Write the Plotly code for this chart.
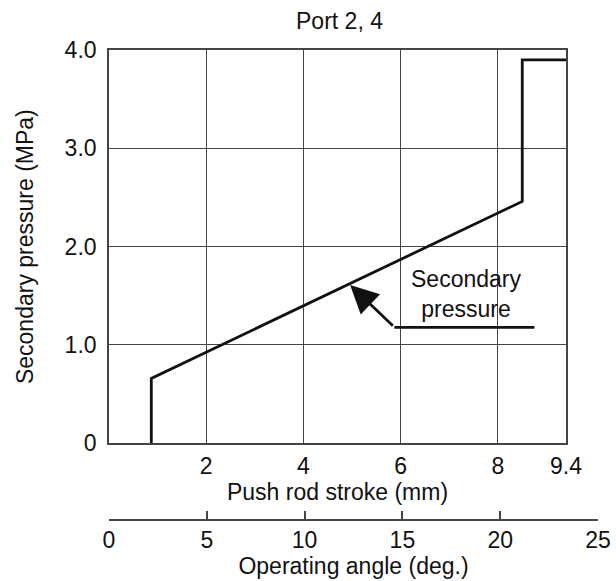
import plotly.graph_objects as go

# ---- data ----
stroke_mm = [0.87, 0.87, 8.5, 8.5, 9.4]
pressure_mpa = [0.0, 0.66, 2.46, 3.9, 3.9]

x_tick_vals = [2, 4, 6, 8, 9.4]
x_tick_text = ["2", "4", "6", "8", "9.4"]
y_tick_vals = [0, 1, 2, 3, 4]
y_tick_text = ["0", "1.0", "2.0", "3.0", "4.0"]
angle_tick_vals = [0, 5, 10, 15, 20, 25]

callout_x = [4.96, 5.87, 8.75]
callout_y = [1.61, 1.18, 1.18]
callout_label = "Secondary<br>pressure"

FONT = "Liberation Sans, Arial, Helvetica, sans-serif"
FS = 23
GRID = "#444444"
INK = "#111111"

W, H = 616, 581
ML, MR, MT, MB = 109, 18, 50, 61
pw = W - ML - MR
ph = H - MT - MB
main_right = 566
main_bottom = 443.3
x_dom_end = (main_right - ML) / pw
y_dom_start = (H - MB - main_bottom) / ph

fig = go.Figure()

fig.add_trace(go.Scatter(
    x=stroke_mm, y=pressure_mpa, mode="lines",
    line=dict(color=INK, width=2.8), showlegend=False, hoverinfo="skip",
    xaxis="x", yaxis="y"))

fig.add_trace(go.Scatter(
    x=callout_x[1:], y=callout_y[1:], mode="lines",
    line=dict(color=INK, width=2.8), showlegend=False, hoverinfo="skip",
    xaxis="x", yaxis="y"))

# invisible trace to register the angle axis
fig.add_trace(go.Scatter(
    x=angle_tick_vals, y=[None] * len(angle_tick_vals), mode="lines",
    showlegend=False, hoverinfo="skip", xaxis="x2", yaxis="y2"))

fig.add_annotation(
    x=callout_x[0], y=callout_y[0], ax=callout_x[1], ay=callout_y[1],
    xref="x", yref="y", axref="x", ayref="y",
    showarrow=True, arrowhead=2, arrowsize=2.0, arrowwidth=2.8,
    arrowcolor=INK, text="", standoff=0)

fig.add_annotation(
    x=7.35, y=1.52, xref="x", yref="y", text=callout_label, showarrow=False,
    font=dict(family=FONT, size=FS, color=INK), align="center",
    bgcolor="rgba(0,0,0,0)")

fig.update_layout(
    width=W, height=H,
    margin=dict(l=ML, r=MR, t=MT, b=MB, pad=0, autoexpand=False),
    paper_bgcolor="white", plot_bgcolor="white",
    font=dict(family=FONT, size=FS, color=INK),
    title=dict(text="Port 2, 4", x=(339.5 - ML) / pw, xref="paper",
               xanchor="center", y=1 - 21 / H, yanchor="middle",
               font=dict(family=FONT, size=FS, color=INK)),
    xaxis=dict(
        domain=[0, x_dom_end], range=[0, 9.4], anchor="y", automargin=False,
        tickvals=x_tick_vals, ticktext=x_tick_text,
        showgrid=True, gridcolor=GRID, gridwidth=1.4,
        showline=True, linecolor=GRID, linewidth=1.6, mirror=True,
        ticks="", ticklabelstandoff=1, zeroline=False,
        title=dict(text="Push rod stroke (mm)", standoff=0,
                   font=dict(family=FONT, size=FS))),
    yaxis=dict(
        domain=[y_dom_start, 1], range=[0, 4], anchor="x", automargin=False,
        tickvals=y_tick_vals, ticktext=y_tick_text,
        showgrid=True, gridcolor=GRID, gridwidth=1.4,
        showline=True, linecolor=GRID, linewidth=1.6, mirror=True,
        ticks="", ticklabelstandoff=6, zeroline=False,
        title=dict(text="Secondary pressure (MPa)", standoff=25,
                   font=dict(family=FONT, size=FS))),
    xaxis2=dict(
        domain=[0, 1], range=[0, 25], anchor="free", position=0,
        automargin=False,
        tickvals=angle_tick_vals, showgrid=False, zeroline=False,
        showline=True, linecolor=GRID, linewidth=1.6,
        ticks="inside", ticklen=8, tickwidth=1.6, tickcolor=GRID,
        ticklabelstandoff=0,
        title=dict(text="Operating angle (deg.)", standoff=1,
                   font=dict(family=FONT, size=FS))),
    yaxis2=dict(domain=[0, 0.05], range=[0, 1], visible=False, anchor="x2"),
)

fig.write_html("out.html", config={"displayModeBar": False},
               post_script="document.body.style.margin='0';document.body.style.overflow='hidden';")
